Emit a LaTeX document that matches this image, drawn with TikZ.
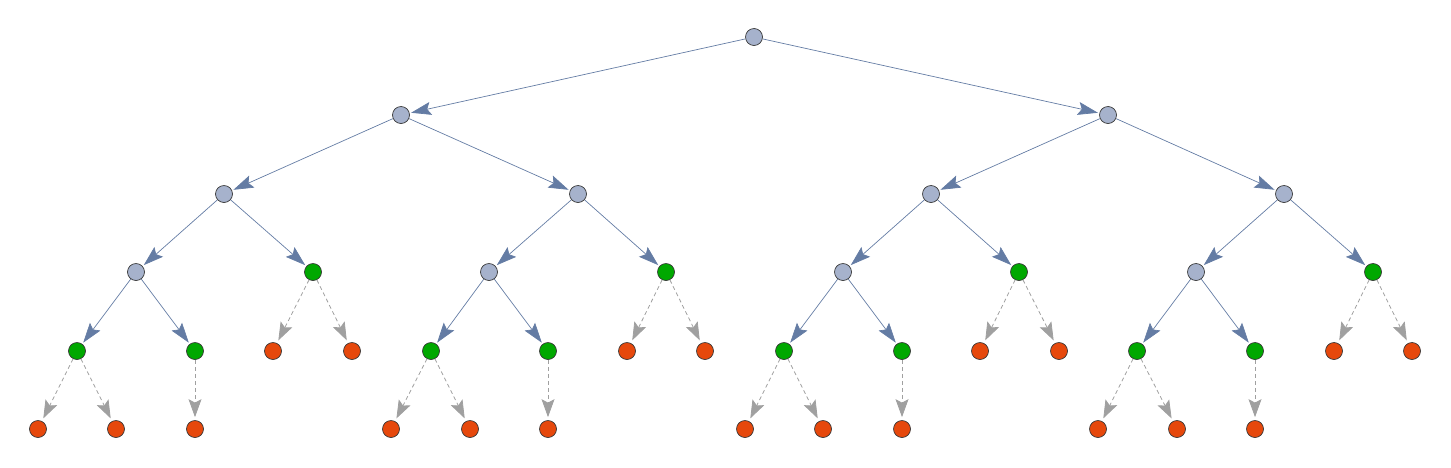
\documentclass[tikz,border=0pt]{standalone}
\usetikzlibrary{arrows.meta}
\definecolor{vgray}{RGB}{166,178,204}
\definecolor{vgreen}{RGB}{0,168,0}
\definecolor{vred}{RGB}{230,72,12}
\definecolor{ecol}{RGB}{100,124,164}
\definecolor{dcol}{RGB}{160,160,160}
\definecolor{bcol}{RGB}{55,55,55}
\tikzset{
  vtx/.style={circle,draw=bcol,line width=0.7pt,minimum size=17pt,inner sep=0pt},
  gv/.style={vtx,fill=vgray},
  grv/.style={vtx,fill=vgreen},
  rv/.style={vtx,fill=vred},
  tedge/.style={ecol,line width=0.7pt,-{Stealth[length=20pt,width=13pt,inset=3.5pt]},shorten >=1.5pt},
  dedge/.style={dcol,line width=0.8pt,dash pattern=on 4pt off 3pt,-{Stealth[length=18pt,width=13pt,inset=3.5pt]},shorten >=3pt}
}
\begin{document}
\begin{tikzpicture}[x=1pt,y=-1pt]
\useasboundingbox (0,0) rectangle (1451,467);
% level 0
\node[gv] (r) at (754,37) {};
% level 1
\node[gv] (a) at (401,115) {};
\node[gv] (b) at (1108,115) {};
% level 2
\node[gv] (aa) at (224,194) {};
\node[gv] (ab) at (578,194) {};
\node[gv] (ba) at (931,194) {};
\node[gv] (bb) at (1284,194) {};
% level 3
\node[gv] (aaa) at (136,272) {};
\node[grv] (aab) at (313,272) {};
\node[gv] (aba) at (489,272) {};
\node[grv] (abb) at (666,272) {};
\node[gv] (baa) at (843,272) {};
\node[grv] (bab) at (1019,272) {};
\node[gv] (bba) at (1196,272) {};
\node[grv] (bbb) at (1373,272) {};
% level 4
\node[grv] (aaaa) at (77,351) {};
\node[grv] (aaab) at (195,351) {};
\node[rv] (aaba) at (273,351) {};
\node[rv] (aabb) at (352,351) {};
\node[grv] (abaa) at (431,351) {};
\node[grv] (abab) at (548,351) {};
\node[rv] (abba) at (627,351) {};
\node[rv] (abbb) at (705,351) {};
\node[grv] (baaa) at (784,351) {};
\node[grv] (baab) at (902,351) {};
\node[rv] (baba) at (980,351) {};
\node[rv] (babb) at (1059,351) {};
\node[grv] (bbaa) at (1137,351) {};
\node[grv] (bbab) at (1255,351) {};
\node[rv] (bbba) at (1334,351) {};
\node[rv] (bbbb) at (1412,351) {};
% level 5
\node[rv] (l1) at (38,429) {};
\node[rv] (l2) at (116,429) {};
\node[rv] (l3) at (195,429) {};
\node[rv] (l4) at (391,429) {};
\node[rv] (l5) at (470,429) {};
\node[rv] (l6) at (548,429) {};
\node[rv] (l7) at (745,429) {};
\node[rv] (l8) at (823,429) {};
\node[rv] (l9) at (902,429) {};
\node[rv] (l10) at (1098,429) {};
\node[rv] (l11) at (1177,429) {};
\node[rv] (l12) at (1255,429) {};
% solid edges
\foreach \s/\t in {r/a,r/b,a/aa,a/ab,b/ba,b/bb,aa/aaa,aa/aab,ab/aba,ab/abb,ba/baa,ba/bab,bb/bba,bb/bbb,
  aaa/aaaa,aaa/aaab,aba/abaa,aba/abab,baa/baaa,baa/baab,bba/bbaa,bba/bbab}
  \draw[tedge] (\s) -- (\t);
% dashed edges
\foreach \s/\t in {aab/aaba,aab/aabb,abb/abba,abb/abbb,bab/baba,bab/babb,bbb/bbba,bbb/bbbb,
  aaaa/l1,aaaa/l2,aaab/l3,abaa/l4,abaa/l5,abab/l6,baaa/l7,baaa/l8,baab/l9,bbaa/l10,bbaa/l11,bbab/l12}
  \draw[dedge] (\s) -- (\t);
\end{tikzpicture}
\end{document}
